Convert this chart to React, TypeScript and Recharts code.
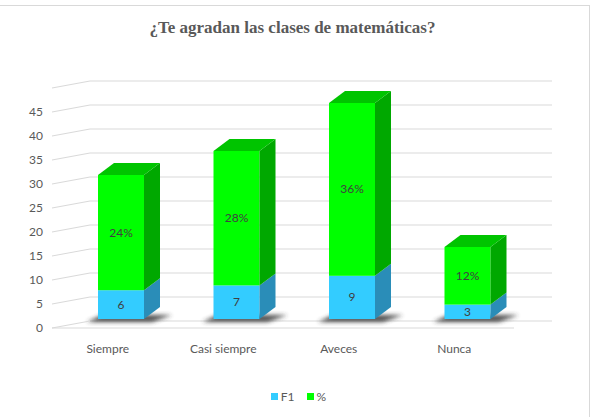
import { Bar, BarChart, CartesianGrid, LabelList, XAxis, YAxis } from 'recharts';

const categories = ['Siempre', 'Casi siempre', 'Aveces', 'Nunca'];
const f1Values = [6, 7, 9, 3];
const pctValues = [24, 28, 36, 12];
const yTicks = [0, 5, 10, 15, 20, 25, 30, 35, 40, 45, 50];

const data = categories.map((name, i) => ({ name, f1: f1Values[i], pct: pctValues[i] }));

const FONT = 'Lato, "Open Sans", sans-serif';
const TEXT = '#595959';
const GRID = '#d9d9d9';

// 3D look: front face offset from the band centre, and depth offsets
const SHIFT = -27;
const LIFT = -2;
const DX = 16;
const DY = 12;
// side wall / floor offset
const WALL_DX = 38;
const WALL_DY = 7;

function make3D(front: string, side: string, top: string, withTop: boolean, withShadow: boolean) {
  return (props: any) => {
    const { x, width, height, index } = props;
    const y = props.y + LIFT;
    const fx = x + SHIFT;
    const b = y + height;
    const id = `sh${index}`;
    return (
      <g>
        {withShadow && (
          <g>
            <defs>
              <filter id={id} x="-50%" y="-200%" width="200%" height="500%">
                <feGaussianBlur stdDeviation="2.2" />
              </filter>
            </defs>
            <polygon
              points={`${fx - 11},${b + 3} ${fx + width + 8},${b + 3} ${fx + width + DX + 12},${b - 4} ${fx + 4},${b - 4}`}
              fill="#333"
              opacity={0.85}
              filter={`url(#${id})`}
            />
          </g>
        )}
        <rect x={fx} y={y} width={width} height={height} fill={front} />
        <polygon
          points={`${fx + width},${y} ${fx + width + DX},${y - DY} ${fx + width + DX},${b - DY} ${fx + width},${b}`}
          fill={side}
        />
        {withTop && (
          <polygon
            points={`${fx},${y} ${fx + DX},${y - DY} ${fx + width + DX},${y - DY} ${fx + width},${y}`}
            fill={top}
          />
        )}
      </g>
    );
  };
}

const YTick = (props: any) => {
  const { y, payload } = props;
  const v = payload.value;
  return (
    <g>
      <line x1={90 - WALL_DX} y1={y + WALL_DY} x2={90} y2={y} stroke={GRID} strokeWidth={1} />
      {v === 0 && <line x1={90 - WALL_DX} y1={y + WALL_DY} x2={552 - WALL_DX} y2={y + WALL_DY} stroke={GRID} />}
      {v !== 50 && (
        <text x={43} y={y + WALL_DY + 4} textAnchor="end" fill={TEXT} fontSize={12} fontFamily={FONT}>
          {v}
        </text>
      )}
    </g>
  );
};

const XTick = (props: any) => {
  const { x, y, payload } = props;
  return (
    <text x={x - 40} y={y + 24} textAnchor="middle" fill={TEXT} fontSize={12} fontFamily={FONT}>
      {payload.value}
    </text>
  );
};

const makeLabel = (suffix: string) => (props: any) => {
  const { x, y, width, height, value } = props;
  return (
    <text
      x={x + SHIFT + width / 2}
      y={y + LIFT + height / 2 + 4}
      textAnchor="middle"
      fill="#404040"
      fontSize={12}
      fontFamily={FONT}
    >
      {value}
      {suffix}
    </text>
  );
};

export default function App() {
  return (
    <div style={{ position: 'absolute', left: 0, top: 0, width: 595, height: 417, background: '#fff', overflow: 'hidden' }}>
      <div
        style={{
          position: 'absolute',
          left: -2,
          top: 5,
          width: 592,
          height: 420,
          borderTop: `1px solid ${GRID}`,
          borderRight: `1px solid ${GRID}`,
          boxSizing: 'border-box',
        }}
      />
      <div
        style={{
          position: 'absolute',
          left: 0,
          top: 18,
          width: 585,
          textAlign: 'center',
          fontFamily: '"Liberation Serif", "Times New Roman", serif',
          fontWeight: 'bold',
          fontSize: 17,
          color: TEXT,
        }}
      >
        ¿Te agradan las clases de matemáticas?
      </div>
      <BarChart
        width={595}
        height={417}
        data={data}
        margin={{ top: 81, right: 43, bottom: 66, left: 30 }}
        barSize={46}
        style={{ position: 'absolute', left: 0, top: 0 }}
      >
        <CartesianGrid vertical={false} stroke={GRID} />
        <XAxis dataKey="name" axisLine={false} tickLine={false} height={30} tick={<XTick />} interval={0} />
        <YAxis
          width={60}
          domain={[0, 50]}
          ticks={yTicks}
          axisLine={false}
          tickLine={false}
          tick={<YTick />}
          interval={0}
        />
        <Bar dataKey="f1" stackId="a" isAnimationActive={false} shape={make3D('#33CCFF', '#2A8DB8', '#2CB4E0', false, true)}>
          <LabelList dataKey="f1" content={makeLabel('')} />
        </Bar>
        <Bar dataKey="pct" stackId="a" isAnimationActive={false} shape={make3D('#00FF00', '#00A800', '#00C400', true, false)}>
          <LabelList dataKey="pct" content={makeLabel('%')} />
        </Bar>
      </BarChart>
      <div
        style={{
          position: 'absolute',
          left: 0,
          top: 389,
          width: 595,
          display: 'flex',
          justifyContent: 'center',
          alignItems: 'center',
          fontFamily: FONT,
          fontSize: 12,
          color: TEXT,
        }}
      >
        <span style={{ display: 'flex', alignItems: 'center', marginLeft: 2 }}>
          <span style={{ width: 7, height: 7, background: '#33CCFF', display: 'inline-block', marginRight: 3 }} />
          F1
        </span>
        <span style={{ display: 'flex', alignItems: 'center', marginLeft: 12 }}>
          <span style={{ width: 7, height: 7, background: '#00FF00', display: 'inline-block', marginRight: 3 }} />
          %
        </span>
      </div>
    </div>
  );
}
